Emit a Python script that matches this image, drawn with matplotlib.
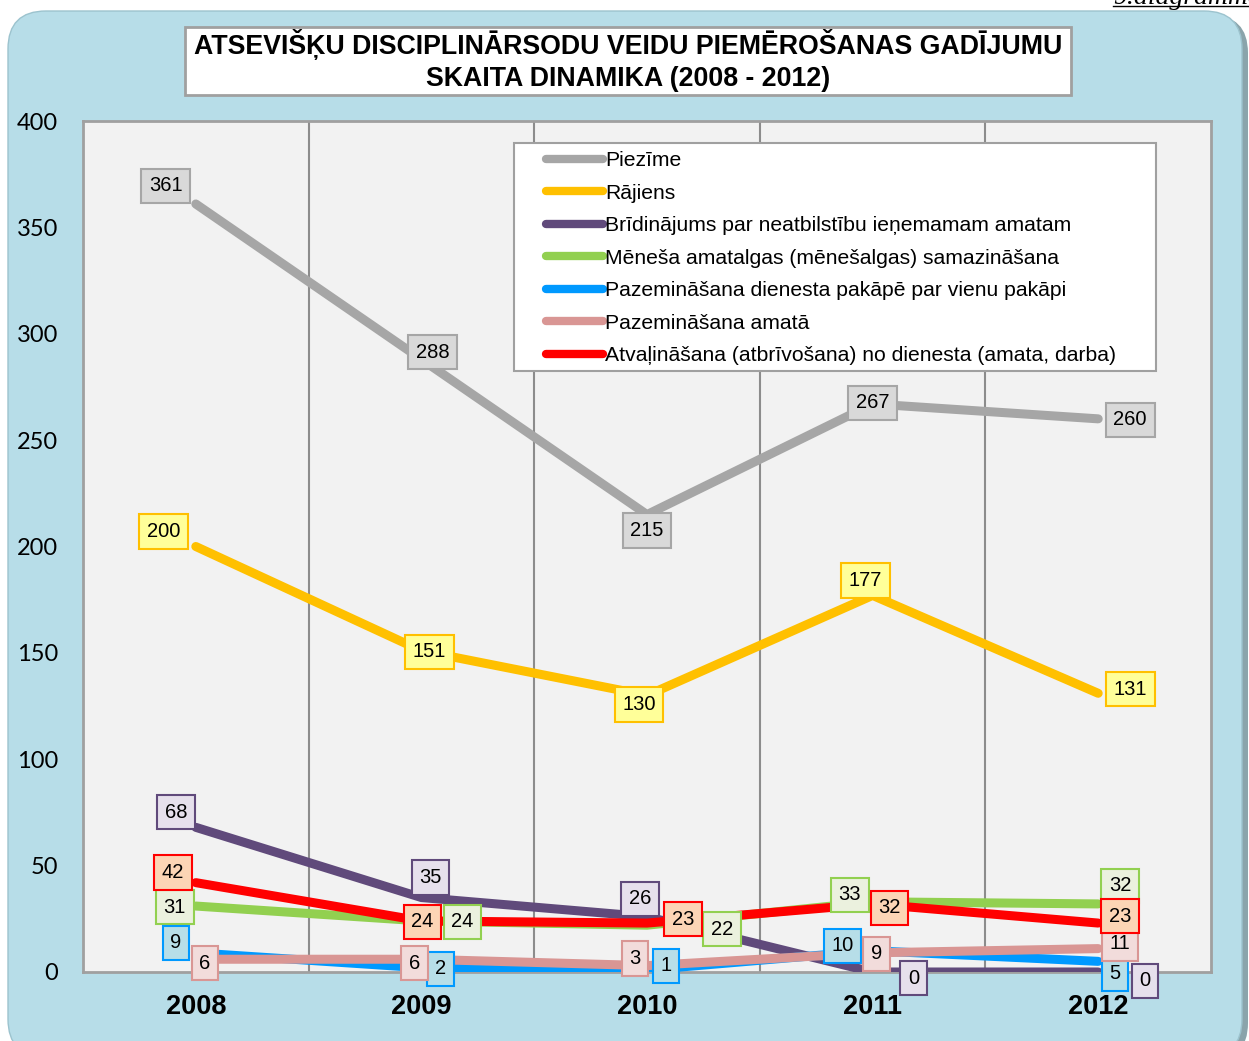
import matplotlib
matplotlib.use("Agg")
import matplotlib.pyplot as plt
from matplotlib.patches import FancyBboxPatch, Rectangle
from matplotlib.transforms import IdentityTransform
from matplotlib.lines import Line2D

years = ["2008", "2009", "2010", "2011", "2012"]

piezime = [361, 288, 215, 267, 260]
rajiens = [200, 151, 130, 177, 131]
bridinajums = [68, 35, 26, 0, 0]
menesa = [31, 24, 22, 33, 32]
pazem_pakape = [9, 2, 1, 10, 5]
pazem_amata = [6, 6, 3, 9, 11]
atvalinasana = [42, 24, 23, 32, 23]

series_names = [
    "Piezīme",
    "Rājiens",
    "Brīdinājums par neatbilstību ieņemamam amatam",
    "Mēneša amatalgas (mēnešalgas) samazināšana",
    "Pazemināšana dienesta pakāpē par vienu pakāpi",
    "Pazemināšana amatā",
    "Atvaļināšana (atbrīvošana) no dienesta (amata, darba)",
]
series_values = [piezime, rajiens, bridinajums, menesa, pazem_pakape, pazem_amata, atvalinasana]

line_colors = ["#A6A6A6", "#FFC000", "#604A7B", "#92D050", "#0099FF", "#D99694", "#FF0000"]
box_fills = ["#D9D9D9", "#FFFF99", "#E6E0EC", "#EBF1DE", "#B7DEE8", "#F2DCDB", "#FCD5B5"]

# label offsets in pixels (dx, dy) relative to each point
label_offsets = [
    [(-30, 18), (11, 7), (0, -16), (0, 1), (32, -1)],
    [(-32, 15), (8, -1), (-8, -9), (-7, 15), (32, 4)],
    [(-20, 15), (9, 20), (-7, 18), (41, -6), (47, -9)],
    [(-21, -1), (41, -1), (75, -4), (-23, 7), (22, 18)],
    [(-20, 10), (19, -1), (19, 4), (-30, 5), (17, -12)],
    [(9, -4), (-7, -4), (-12, 7), (4, -1), (22, 5)],
    [(-23, 10), (1, -1), (36, 4), (17, -4), (22, 7)],
]

W, H = 1249, 1041
fig = plt.figure(figsize=(W / 100, H / 100), dpi=100)
fig.patch.set_facecolor("white")

# rounded blue panel with a soft shadow
shadow = FancyBboxPatch((12, -20), 1236, 1046, boxstyle="round,pad=0,rounding_size=38",
                        transform=IdentityTransform(), facecolor="#8AA4AB", edgecolor="none", zorder=-2)
panel = FancyBboxPatch((8, -16), 1234, 1046, boxstyle="round,pad=0,rounding_size=38",
                       transform=IdentityTransform(), facecolor="#B7DDE8", edgecolor="#9CC3CE",
                       linewidth=1, zorder=-1)
fig.patches.extend([shadow, panel])

# caption at top right (cut off by page edge)
fig.text(1113 / W, 1 - 4 / H, "9.diagramma", fontsize=20, family="Liberation Serif",
         style="italic", ha="left", va="baseline")
fig.add_artist(Line2D([1113 / W, 1], [1 - 6 / H, 1 - 6 / H], transform=fig.transFigure,
                      color="black", lw=1))

# title box
fig.patches.append(Rectangle((185, H - 95), 886, 68, transform=IdentityTransform(),
                             facecolor="white", edgecolor="#A0A0A0", linewidth=2, zorder=1))
fig.text(628 / W, 1 - 61 / H, "ATSEVIŠĶU DISCIPLINĀRSODU VEIDU PIEMĒROŠANAS GADĪJUMU\nSKAITA DINAMIKA (2008 - 2012)",
         ha="center", va="center", fontsize=19.3, fontweight="bold", family="Liberation Sans",
         linespacing=1.3, zorder=2)

ax = fig.add_axes([83 / W, (H - 972) / H, 1128 / W, (972 - 121) / H])
ax.set_facecolor("#F2F2F2")
x = list(range(len(years)))

for b in [0.5, 1.5, 2.5, 3.5]:
    ax.axvline(b, color="#8C8C8C", lw=1.5, zorder=1)

for i, (name, vals) in enumerate(zip(series_names, series_values)):
    ax.plot(x, vals, color=line_colors[i], lw=6.5, solid_capstyle="round",
            solid_joinstyle="round", label=name, zorder=3 + i * 0.1)

for i, vals in enumerate(series_values):
    for j, v in enumerate(vals):
        dx, dy = label_offsets[i][j]
        ax.annotate(str(v), (x[j], v), xytext=(dx, dy), textcoords="offset pixels",
                    ha="center", va="center", fontsize=14.5, family="Liberation Sans",
                    bbox=dict(boxstyle="square,pad=0.38", facecolor=box_fills[i],
                              edgecolor=line_colors[i], linewidth=1.5),
                    zorder=6, annotation_clip=False)

ax.set_xlim(-0.5, 4.5)
ax.set_ylim(0, 400)
ax.set_yticks(range(0, 401, 50))
ax.set_xticks(x)
ax.set_xticklabels(years, fontsize=19.5, fontweight="bold", family="Liberation Sans")
ax.tick_params(axis="x", length=0, pad=16)
ax.tick_params(axis="y", length=0, pad=18, labelsize=17)
for lab in ax.get_yticklabels():
    lab.set_family("Lato")
for s in ax.spines.values():
    s.set_color("#A0A0A0")
    s.set_linewidth(2)

# legend frame drawn separately (wide left margin as in the original)
frame = Rectangle((514, H - 371), 642, 228, transform=IdentityTransform(),
                  facecolor="white", edgecolor="#A0A0A0", linewidth=1.5, zorder=6.5,
                  clip_on=False)
ax.add_artist(frame)
leg = ax.legend(loc="upper left", bbox_to_anchor=(542 / W, 1 - 147 / H),
                bbox_transform=fig.transFigure, borderaxespad=0,
                prop={"family": "Liberation Sans", "size": 15.2},
                handlelength=2.7, handletextpad=0.1, labelspacing=0.64,
                borderpad=0.2, frameon=False)
for h in leg.get_lines():
    h.set_solid_capstyle("round")
    h.set_linewidth(6)
leg.set_zorder(7)

fig.savefig("out.png", dpi=100)
